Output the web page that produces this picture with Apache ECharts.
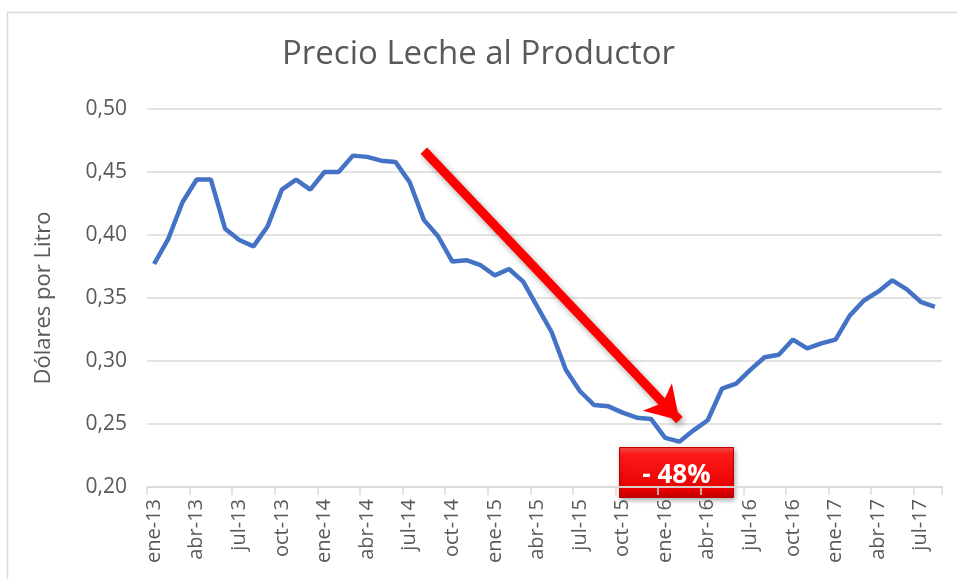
<!DOCTYPE html>
<html>
<head>
<meta charset="utf-8">
<script src="https://cdn.jsdelivr.net/npm/echarts@6/dist/echarts.min.js"></script>
<style>
  html, body { margin: 0; padding: 0; background: #fff; }
  #chart { width: 957px; height: 579px; }
</style>
</head>
<body>
<div id="chart"></div>
<script>
const months = ['ene', 'feb', 'mar', 'abr', 'may', 'jun', 'jul', 'ago', 'sep', 'oct', 'nov', 'dic']
const years = ['13', '14', '15', '16', '17']

// ene-13 .. ago-17
const categories = []
years.forEach(y => months.forEach(m => categories.push(`${m}-${y}`)))
categories.length = 56

const precio = [
  0.377, 0.397, 0.426, 0.444, 0.444, 0.405, 0.396, 0.391, 0.407, 0.436, 0.444, 0.436,
  0.450, 0.450, 0.463, 0.462, 0.459, 0.458, 0.442, 0.412, 0.399, 0.379, 0.380, 0.376,
  0.368, 0.373, 0.363, 0.343, 0.323, 0.293, 0.276, 0.265, 0.264, 0.259, 0.255, 0.254,
  0.239, 0.236, 0.245, 0.253, 0.278, 0.282, 0.293, 0.303, 0.305, 0.317, 0.310, 0.314,
  0.317, 0.336, 0.348, 0.355, 0.364, 0.357, 0.347, 0.343
]

// arrow annotation, in data units (category index, value)
const arrowFrom = [18.8, 0.467]
const arrowTo = [37.3, 0.253]
const dropLabel = '- 48%'

const gray = '#595959'
const chart = echarts.init(document.getElementById('chart'))

chart.setOption({
  animation: false,
  title: {
    text: 'Precio Leche al Productor',
    left: 'center',
    top: 33,
    textStyle: { color: gray, fontSize: 33, fontWeight: 'normal', fontFamily: 'Open Sans' },
  },
  grid: { left: 147, right: 15, top: 109, bottom: 92, outerBoundsMode: 'none' },
  xAxis: {
    type: 'category',
    data: categories,
    boundaryGap: true,
    axisLine: { lineStyle: { color: '#d9d9d9', width: 1.5 } },
    axisTick: { show: true, interval: 2, length: 8, lineStyle: { color: '#d9d9d9', width: 1.5 } },
    axisLabel: {
      interval: 2,
      rotate: 90,
      margin: 12,
      color: gray,
      fontSize: 20,
      fontFamily: 'Open Sans',
    },
  },
  yAxis: {
    type: 'value',
    min: 0.2,
    max: 0.5,
    interval: 0.05,
    name: 'Dólares por Litro',
    nameLocation: 'middle',
    nameGap: 92,
    nameTextStyle: { color: gray, fontSize: 22, fontFamily: 'Open Sans' },
    axisLine: { show: false },
    axisTick: { show: false },
    axisLabel: {
      color: gray,
      fontSize: 21,
      margin: 20,
      fontFamily: 'Open Sans',
      formatter: v => v.toFixed(2).replace('.', ','),
    },
    splitLine: { lineStyle: { color: '#d9d9d9', width: 1.5 } },
  },
  series: [{
    type: 'line',
    data: precio,
    symbol: 'none',
    lineStyle: { color: '#4472C4', width: 4.5 },
    z: 3,
    markLine: {
      silent: true,
      symbol: ['none', 'arrow'],
      symbolSize: [30, 32],
      label: { show: false },
      lineStyle: {
        type: 'solid',
        color: '#ff0000',
        width: 9,
        shadowColor: 'rgba(0,0,0,0.35)',
        shadowBlur: 6,
        shadowOffsetX: 2,
        shadowOffsetY: 3,
      },
      data: [[{ coord: arrowFrom }, { coord: arrowTo }]],
      z: 5,
    },
  }],
  graphic: [
    {
      type: 'rect',
      left: 5,
      top: 10,
      shape: { width: 960, height: 580 },
      style: { fill: 'none', stroke: '#d9d9d9', lineWidth: 1.5 },
      silent: true,
      z: -1,
    },
    {
      type: 'group',
      left: 619,
      top: 447,
      z: 100,
      children: [
        {
          type: 'rect',
          shape: { width: 114, height: 50 },
          style: {
            fill: new echarts.graphic.LinearGradient(0, 0, 0, 1, [
              { offset: 0, color: '#ff5050' },
              { offset: 0.15, color: '#ff1a1a' },
              { offset: 0.85, color: '#e60000' },
              { offset: 1, color: '#c00000' },
            ]),
            stroke: '#c00000',
            lineWidth: 1,
            shadowColor: 'rgba(0,0,0,0.35)',
            shadowBlur: 5,
            shadowOffsetX: 1,
            shadowOffsetY: 2,
          },
        },
        {
          type: 'text',
          x: 57,
          y: 28,
          style: {
            text: dropLabel,
            fill: '#fff',
            font: 'bold 26px "Open Sans"',
            align: 'center',
            verticalAlign: 'middle',
          },
        },
      ],
    },
  ],
})
</script>
</body>
</html>
